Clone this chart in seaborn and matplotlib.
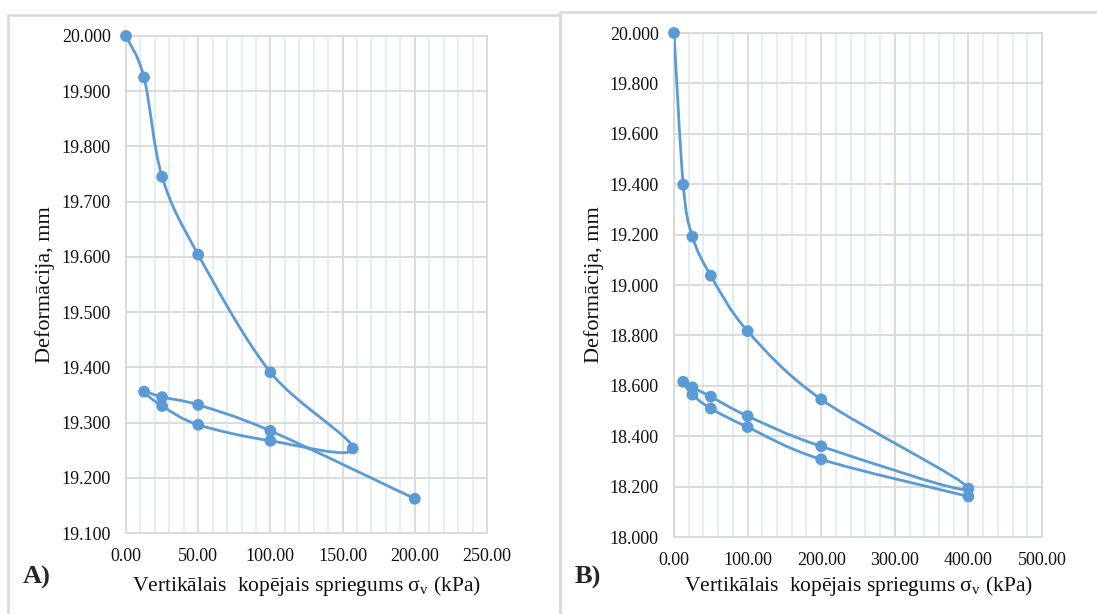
import numpy as np
import pandas as pd
import matplotlib
matplotlib.use("Agg")
import matplotlib.pyplot as plt
from matplotlib.path import Path
from matplotlib.patches import PathPatch, Rectangle
from matplotlib.ticker import MultipleLocator, FormatStrFormatter
import seaborn as sns

# Panel A: load -> unload -> reload sequence (stress kPa, dial reading mm)
stress_a = [0, 12.5, 25, 50, 100, 157, 100, 50, 25, 12.5, 25, 50, 100, 200]
deform_a = [20.000, 19.925, 19.745, 19.604, 19.391, 19.253,
            19.267, 19.296, 19.330, 19.356, 19.346, 19.332, 19.285, 19.162]

# Panel B
stress_b = [0, 12.5, 25, 50, 100, 200, 400, 200, 100, 50, 25, 12.5, 25, 50, 100, 200, 400]
deform_b = [20.000, 19.398, 19.192, 19.037, 18.817, 18.546, 18.192,
            18.360, 18.480, 18.557, 18.594, 18.616,
            18.565, 18.510, 18.436, 18.308, 18.161]

x_label = "Vertikālais  kopējais spriegums σ$_\\mathregular{v}$ (kPa)"
y_label = "Deformācija, mm"

sns.set_theme(style="white")
plt.rcParams['font.family'] = ['Liberation Serif', 'DejaVu Serif']
plt.rcParams['mathtext.fontset'] = 'custom'
plt.rcParams['mathtext.rm'] = 'Liberation Serif'

blue = "#5B9BD5"
grid_major = "#D9D9D9"
grid_minor = "#DDEBF7"


def smooth_path(xs, ys):
    # excel-like smoothed line: catmull-rom converted to cubic bezier
    pts = np.column_stack([xs, ys]).astype(float)
    n = len(pts)
    verts = [pts[0]]
    codes = [Path.MOVETO]
    for i in range(n - 1):
        p0 = pts[i - 1] if i > 0 else pts[i]
        p1, p2 = pts[i], pts[i + 1]
        p3 = pts[i + 2] if i + 2 < n else pts[i + 1]
        verts += [p1 + (p2 - p0) / 6, p2 - (p3 - p1) / 6, p2]
        codes += [Path.CURVE4] * 3
    return Path(verts, codes)


def draw_panel(ax, xs, ys, xmax, xmajor, xminor, ymin, ymax, ystep):
    df = pd.DataFrame({"stress": xs, "deform": ys})
    ax.add_patch(PathPatch(smooth_path(df["stress"], df["deform"]),
                           facecolor="none", edgecolor=blue, lw=2.0, zorder=3))
    sns.scatterplot(data=df, x="stress", y="deform", ax=ax, color=blue,
                    s=72, edgecolor="none", zorder=4, legend=False, clip_on=False)
    ax.set_xlim(0, xmax)
    ax.set_ylim(ymin, ymax)
    ax.xaxis.set_major_locator(MultipleLocator(xmajor))
    ax.xaxis.set_minor_locator(MultipleLocator(xminor))
    ax.yaxis.set_major_locator(MultipleLocator(ystep))
    ax.xaxis.set_major_formatter(FormatStrFormatter("%.2f"))
    ax.yaxis.set_major_formatter(FormatStrFormatter("%.3f"))
    ax.grid(True, which="minor", axis="x", color=grid_minor, lw=1.2, zorder=0)
    ax.grid(True, which="major", axis="both", color=grid_major, lw=1.3, zorder=1)
    ax.set_axisbelow(True)
    for s in ax.spines.values():
        s.set_color(grid_major)
        s.set_linewidth(1.3)
    ax.tick_params(which="both", length=0, labelsize=13, colors="#111111", pad=11)
    ax.set_xlabel(x_label, fontsize=15.5, color="#111111")
    ax.set_ylabel(y_label, fontsize=16, color="#111111")


W, H = 1097, 614
fig = plt.figure(figsize=(W / 100, H / 100), dpi=100)

# panel frames
fig.add_artist(Rectangle((8 / W, -0.05), (560 - 8) / W, 1.05 - 15 / H,
                         transform=fig.transFigure, fill=False,
                         edgecolor=grid_major, lw=1.8))
fig.add_artist(Rectangle((560 / W, -0.05), 0.6, 1.05 - 12 / H,
                         transform=fig.transFigure, fill=False,
                         edgecolor=grid_major, lw=1.8))

ax_a = fig.add_axes([126 / W, 1 - 533 / H, (487 - 126) / W, (533 - 36) / H])
ax_b = fig.add_axes([674 / W, 1 - 537 / H, (1042 - 674) / W, (537 - 33) / H])

draw_panel(ax_a, stress_a, deform_a, 250, 50, 10, 19.1, 20.0, 0.1)
draw_panel(ax_b, stress_b, deform_b, 500, 100, 20, 18.0, 20.0, 0.2)

ax_a.yaxis.set_label_coords(-0.197, 0.5)
ax_b.yaxis.set_label_coords(-0.19, 0.5)
ax_a.xaxis.set_label_coords(0.5, -0.082)
ax_b.xaxis.set_label_coords(0.5, -0.073)

fig.text(23 / W, 1 - 584 / H, "A)", fontsize=19, fontweight="bold", va="baseline")
fig.text(575 / W, 1 - 584 / H, "B)", fontsize=19, fontweight="bold", va="baseline")

fig.savefig("out.png", dpi=100)
